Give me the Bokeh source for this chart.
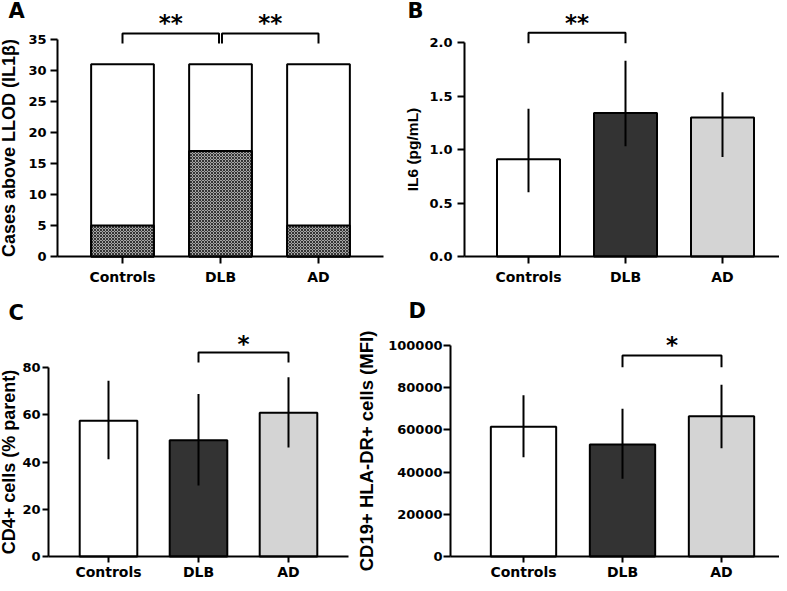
from bokeh.plotting import figure
from bokeh.layouts import column, row
from bokeh.models import Range1d, FixedTicker, NumeralTickFormatter
from bokeh.core.properties import value
from bokeh.embed import file_html
from bokeh.resources import INLINE

# ---------------- data ----------------
categories = ["Controls", "DLB", "AD"]

# Panel A: cases above LLOD (IL1beta)
a_total = [31, 31, 31]
a_above = [5, 17, 5]

# Panel B: IL6 (pg/mL)
b_mean = [0.91, 1.34, 1.30]
b_lo = [0.60, 1.03, 0.93]
b_hi = [1.38, 1.83, 1.535]

# Panel C: CD4+ cells (% parent)
c_mean = [57.5, 49.2, 60.8]
c_lo = [41.2, 30.1, 46.1]
c_hi = [74.4, 68.8, 75.9]

# Panel D: CD19+ HLA-DR+ cells (MFI)
d_mean = [61500, 53100, 66500]
d_lo = [47000, 36800, 51300]
d_hi = [76400, 70000, 81400]

bar_colors = ["#ffffff", "#333333", "#d4d4d4"]

xs = list(range(len(categories)))

TICK_FONT = "DejaVu Sans"
LABEL_FONT = "Liberation Sans"


class Panel:
    """Pixel layout of one panel: the frame fills the whole canvas and the
    axes are drawn at fixed locations inside it."""

    def __init__(self, w, h, x0, dx, y0, k):
        self.w, self.h, self.x0, self.dx, self.y0, self.k = w, h, x0, dx, y0, k

    def fx(self, px):
        return (px - self.x0) / self.dx

    def fy(self, py):
        return (self.y0 - py) / self.k


def make_fig(L, yaxis_px, xaxis_right_px, yticks, ytop, ylabel, ylabel_size,
             ylabel_standoff, tick_out=7, xlabel_standoff=5, ylab_standoff=4):
    p = figure(width=L.w, height=L.h,
               x_range=Range1d(L.fx(0), L.fx(L.w)),
               y_range=Range1d(L.fy(L.h), L.fy(0)),
               output_backend="svg", toolbar_location=None,
               min_border=0)
    p.grid.visible = False
    p.outline_line_color = None
    p.background_fill_color = "white"
    p.border_fill_color = "white"
    for ax in (p.xaxis[0], p.yaxis[0]):
        ax.axis_line_width = 2
        ax.axis_line_color = "black"
        ax.major_tick_line_width = 2
        ax.major_tick_line_color = "black"
        ax.major_tick_in = 0
        ax.major_tick_out = tick_out
        ax.minor_tick_line_color = None
        ax.major_label_text_font = TICK_FONT
        ax.major_label_text_font_style = "bold"
        ax.major_label_text_color = "black"
    p.xaxis.fixed_location = 0
    p.xaxis.bounds = (L.fx(yaxis_px), L.fx(xaxis_right_px))
    p.xaxis.ticker = FixedTicker(ticks=xs)
    p.xaxis.major_label_overrides = {i: c for i, c in zip(xs, categories)}
    p.xaxis.major_label_text_font_size = "14px"
    p.xaxis.major_label_standoff = xlabel_standoff
    p.yaxis.fixed_location = L.fx(yaxis_px)
    p.yaxis.ticker = FixedTicker(ticks=yticks)
    p.yaxis.bounds = (0, ytop)
    p.yaxis.major_label_text_font_size = "13px"
    p.yaxis.major_label_standoff = ylab_standoff
    p.yaxis.axis_label = ylabel
    p.yaxis.axis_label_text_font = LABEL_FONT
    p.yaxis.axis_label_text_font_style = "bold"
    p.yaxis.axis_label_text_font_size = ylabel_size
    p.yaxis.axis_label_text_color = "black"
    p.yaxis.axis_label_standoff = ylabel_standoff
    return p


def add_letter(p, letter, x, y):
    p.text(x=[x], y=[y], text=[letter], text_font=value(TICK_FONT),
           text_font_style="bold", text_font_size="21px", text_align="left",
           text_baseline="alphabetic", text_color="black")


def add_bracket(p, x0, x1, yh, yt, stars, ytext):
    p.line([x0, x0, x1, x1], [yt, yh, yh, yt], line_color="black", line_width=2)
    p.text(x=[(x0 + x1) / 2], y=[ytext], text=[stars],
           text_font=value(TICK_FONT), text_font_style="bold",
           text_font_size="23px", text_align="center",
           text_baseline="alphabetic", text_color="black")


def bars_with_err(p, mean, lo, hi, width):
    p.vbar(x=xs, top=mean, bottom=0, width=width, fill_color=bar_colors,
           line_color="black", line_width=2)
    p.segment(x0=xs, y0=lo, x1=xs, y1=hi, line_color="black", line_width=2)


# ---------------- Panel A ----------------
LA = Panel(390, 288, 122, 98, 256, 6.2)
pA = make_fig(LA, 57, 383, list(range(0, 36, 5)), 35,
              "Cases above LLOD (IL1\u03b2)", "18px", 6)
pA.vbar(x=xs, top=a_total, bottom=0, width=0.64, fill_color="white",
        line_color="black", line_width=2)
pA.vbar(x=xs, top=a_above, bottom=0, width=0.64, fill_color="#a6a6a6",
        hatch_pattern="diagonal_cross", hatch_scale=3, hatch_weight=1,
        hatch_color="#333333", line_color="black", line_width=2)
add_bracket(pA, 0, 0.985, LA.fy(33), LA.fy(43), "**", LA.fy(22.5))
add_bracket(pA, 1.015, 2, LA.fy(33), LA.fy(43), "**", LA.fy(22.5))
add_letter(pA, "A", LA.fx(8), LA.fy(10))

# ---------------- Panel B ----------------
LB = Panel(389, 288, 138, 97, 256, 107)
pB = make_fig(LB, 74, 389, [0, 0.5, 1.0, 1.5, 2.0], 2.0,
              "IL6 (pg/mL)", "15.5px", 5, ylab_standoff=5)
pB.yaxis.formatter = NumeralTickFormatter(format="0.0")
bars_with_err(pB, b_mean, b_lo, b_hi, 0.65)
add_bracket(pB, 0, 1, LB.fy(32.3), LB.fy(42.7), "**", LB.fy(22.5))
add_letter(pB, "B", LB.fx(17), LB.fy(10))

# ---------------- Panel C ----------------
LC = Panel(355, 295, 108, 90, 268, 2.3625)
pC = make_fig(LC, 48, 348, [0, 20, 40, 60, 80], 80,
              "CD4+ cells (% parent)", "18px", 0, tick_out=6,
              xlabel_standoff=1, ylab_standoff=2)
bars_with_err(pC, c_mean, c_lo, c_hi, 0.64)
add_bracket(pC, 1, 2, LC.fy(64), LC.fy(74), "*", LC.fy(55.5))
add_letter(pC, "C", LC.fx(8), LC.fy(24))

# ---------------- Panel D ----------------
LD = Panel(424, 295, 168, 99, 268, 0.00211)
pD = make_fig(LD, 95, 424, [0, 20000, 40000, 60000, 80000, 100000], 100000,
              "CD19+ HLA-DR+ cells (MFI)", "18.5px", 8, tick_out=7,
              xlabel_standoff=1, ylab_standoff=1)
pD.yaxis.formatter = NumeralTickFormatter(format="0")
pD.xaxis.major_tick_out = 6
bars_with_err(pD, d_mean, d_lo, d_hi, 0.66)
add_bracket(pD, 1, 2, LD.fy(67), LD.fy(78.7), "*", LD.fy(56.5))
add_letter(pD, "D", LD.fx(53), LD.fy(22))

layout = column(row(pA, pB), row(pC, pD))

open("out.html", "w").write(file_html(layout, INLINE))
